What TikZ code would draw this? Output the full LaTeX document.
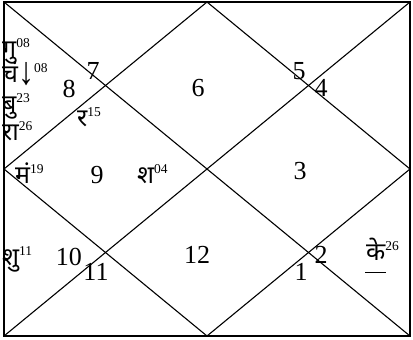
\documentclass[tikz,border=0pt]{standalone}
\usepackage{fontspec}
\setmainfont{Liberation Serif}
\newfontfamily\devf[Script=Devanagari]{Noto Sans}
\newcommand{\sx}[1]{\raisebox{10pt}{\rmfamily\fontsize{13.5}{13.5}\selectfont #1}}
\begin{document}
\begin{tikzpicture}[x=1pt,y=-1pt,
  frame/.style={line width=1.1pt},
  num/.style={font=\rmfamily\fontsize{26}{26}\selectfont, inner sep=0},
  pl/.style={font=\devf\fontsize{25}{25}\selectfont, inner sep=0, anchor=west}]
\useasboundingbox (0,0) rectangle (413,340);
\coordinate (tl) at (4,2);
\coordinate (tr) at (410,2);
\coordinate (bl) at (4,336);
\coordinate (br) at (410,336);
\coordinate (tm) at (207,2);
\coordinate (bm) at (207,336);
\coordinate (lm) at (4,169);
\coordinate (rm) at (410,169);
\draw[frame] (tl) rectangle (br);
\draw[frame] (tl) -- (br);
\draw[frame] (tr) -- (bl);
\draw[frame] (tm) -- (rm) -- (bm) -- (lm) -- cycle;
% house numbers
\node[num] (h6) at (198,88) {6};
\node[num] (h7) at (93,71) {7};
\node[num] (h8) at (69,89) {8};
\node[num] (h5) at (299,71) {5};
\node[num] (h4) at (321,88) {4};
\node[num] (h3) at (300,171) {3};
\node[num] (h9) at (97,175) {9};
\node[num] (h10) at (69,257) {10};
\node[num] (h11) at (96,272) {11};
\node[num] (h12) at (197,255) {12};
\node[num] (h1) at (301,272) {1};
\node[num] (h2) at (321,255) {2};
% planets
\node[pl] (gu) at (2,51) {गु\sx{08}};
\node[pl] (ch) at (2,74) {चं\raisebox{-2pt}{\scalebox{1.15}[1.4]{\rmfamily\fontsize{28}{28}\selectfont ↓}}\sx{08}};
\node[pl] (bu) at (2,106) {बु\sx{23}};
\node[pl] (ra) at (2,131) {रा\sx{26}};
\node[pl] (su) at (77,117) {र\sx{15}};
\node[pl] (ma) at (15,173) {मं\sx{19}};
\node[pl] (sa) at (137,174) {श\sx{04}};
\node[pl] (sk) at (2,259) {शु\sx{11}};
\node[pl] (ke) at (366,249) {के\sx{26}};
\draw[line width=0.8pt] (365,272) -- (386,272);
\end{tikzpicture}
\end{document}
